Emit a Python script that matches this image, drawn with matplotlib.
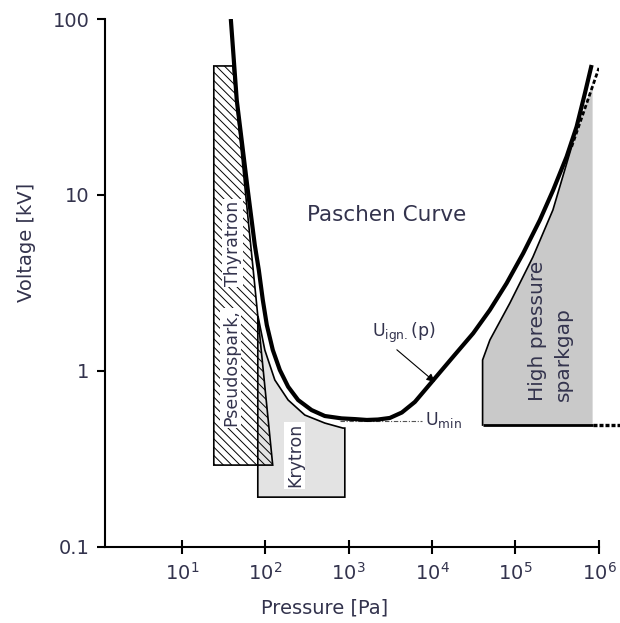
import matplotlib
matplotlib.use("Agg")
import matplotlib.pyplot as plt
import numpy as np
from matplotlib.patches import Polygon

# Paschen curve U_ign(p): pressure [Pa], voltage [kV]
curve_p = [38.7, 45.6, 61.8, 75.0, 83.8, 93.6, 104.5, 123.3, 149.7, 188.3,
           248, 359, 518, 822, 1187, 1652, 2239, 3118, 4344, 6220, 10510,
           17910, 31100, 49320, 78220, 123700, 196100, 283100, 410000,
           540200, 679400, 817400]
curve_v = [100, 34.6, 10.68, 5.20, 3.75, 2.53, 1.826, 1.316, 1.013, 0.814,
           0.684, 0.600, 0.555, 0.538, 0.533, 0.527, 0.530, 0.541, 0.581,
           0.667, 0.895, 1.206, 1.638, 2.222, 3.150, 4.665, 7.21, 10.68,
           16.51, 24.44, 37.83, 54.78]

# Pseudospark / Thyratron region (hatched)
thyr_p = [24.2, 40.9, 123, 24.2]
thyr_v = [54.1, 54.1, 0.292, 0.292]

# Krytron region
kry_p = [81.5, 82.2, 98.9, 130.4, 188.3, 298.4, 518.3, 852, 900, 900, 81.5]
kry_v = [2.035, 2.035, 1.316, 0.889, 0.684, 0.562, 0.506, 0.474, 0.474,
         0.192, 0.192]

# High pressure sparkgap region
spark_edge_p = [40320, 40320, 49320, 85700, 161700, 280800, 470700]
spark_edge_v = [0.493, 1.155, 1.50, 2.434, 4.444, 8.22, 18.8]
spark_top_p = 840400
spark_top_v = 43.3
spark_bottom_v = 0.493
spark_dash_p = [470700, 1.0e6]
spark_dash_v = [18.8, 52.7]
spark_tail_p = [840400, 1.79e6]

umin_p = [784, 7550]
umin_v = 0.52

xtick_vals = [1e1, 1e2, 1e3, 1e4, 1e5, 1e6]
xtick_labels = [r'10$^{\mathregular{%d}}$' % i for i in range(1, 7)]
ytick_vals = [0.1, 1, 10, 100]
ytick_labels = ['0.1', '1', '10', '100']

txt = '#33334d'

fig = plt.figure(figsize=(6.2, 6.23), dpi=100)
ax = fig.add_axes([0.169, 0.122, 0.797, 0.8475])
ax.set_xscale('log')
ax.set_yscale('log')
ax.set_xlim(10 ** 0.077, 1e6)
ax.set_ylim(0.1, 100)

# krytron (light grey, outlined)
kry = Polygon(np.column_stack([kry_p, kry_v]), closed=True,
              facecolor='#e3e3e3', edgecolor='black', lw=1.2, zorder=2)
ax.add_patch(kry)

# pseudospark / thyratron (hatched, no fill)
plt.rcParams['hatch.linewidth'] = 0.7
plt.rcParams['hatch.color'] = '#444444'
thyr = Polygon(np.column_stack([thyr_p, thyr_v]), closed=True,
               facecolor='none', edgecolor='black', lw=1.2,
               hatch='\\' * 4, zorder=3)
ax.add_patch(thyr)

# high pressure sparkgap
sp_p = spark_edge_p + [spark_top_p, spark_top_p]
sp_v = spark_edge_v + [spark_top_v, spark_bottom_v]
spark = Polygon(np.column_stack([sp_p, sp_v]), closed=True,
                facecolor='#c9c9c9', edgecolor='none', zorder=2)
ax.add_patch(spark)
ax.plot(spark_edge_p, spark_edge_v, color='black', lw=1.2, zorder=3)
ax.plot([spark_edge_p[0], spark_top_p], [spark_bottom_v] * 2,
        color='black', lw=2.0, zorder=3, solid_capstyle='butt')
ax.plot(spark_dash_p, spark_dash_v, color='black', lw=2.0,
        ls=(0, (1.5, 0.9)), zorder=4)
ax.plot(spark_tail_p, [spark_bottom_v] * 2, color='black', lw=2.4,
        ls=(0, (1.2, 0.6)), zorder=4, clip_on=False)

# Paschen curve
ax.plot(curve_p, curve_v, color='black', lw=3.0, zorder=5,
        solid_capstyle='butt', solid_joinstyle='round')

# U_min marker line
ax.plot(umin_p, [umin_v] * 2, color='#555555', lw=0.8,
        ls=(0, (4, 1.5, 1, 1.5)), zorder=4)

# labels
ax.text(2870, 7.7, 'Paschen Curve', fontsize=15.5, color=txt,
        ha='center', va='center')
box = dict(facecolor='white', edgecolor='none', pad=1.0)
ax.text(40.9, 5.34, 'Thyratron', fontsize=12.5, color=txt, rotation=90,
        ha='center', va='center', bbox=box, zorder=6)
ax.text(38.7, 1.04, 'Pseudospark,', fontsize=12.5, color=txt, rotation=90,
        ha='center', va='center', bbox=box, zorder=6)
ax.text(226, 0.333, 'Krytron', fontsize=12.5, color=txt, rotation=90,
        ha='center', va='center', bbox=box, zorder=6)
ax.text(265000, 0.675, 'High pressure\nsparkgap', fontsize=14.5, color=txt,
        rotation=90, ha='center', va='bottom', multialignment='left',
        linespacing=1.45, zorder=6)
ax.text(1897, 1.64, r'U$_{\mathregular{ign.}}$(p)', fontsize=12.5, color=txt,
        ha='left', va='center', zorder=6)
ax.annotate('', xy=(10800, 0.866), xytext=(3784, 1.32),
            arrowprops=dict(arrowstyle='-|>', lw=0.8, color='black',
                            mutation_scale=12, shrinkA=0, shrinkB=0),
            zorder=6)
ax.text(8200, 0.527, r'U$_{\mathregular{min}}$', fontsize=12.5, color=txt,
        ha='left', va='center', zorder=6)

# axes styling
for side in ['top', 'right']:
    ax.spines[side].set_visible(False)
for side in ['left', 'bottom']:
    ax.spines[side].set_linewidth(1.5)
ax.xaxis.set_major_locator(matplotlib.ticker.FixedLocator(xtick_vals))
ax.xaxis.set_major_formatter(matplotlib.ticker.FixedFormatter(xtick_labels))
ax.yaxis.set_major_locator(matplotlib.ticker.FixedLocator(ytick_vals))
ax.yaxis.set_major_formatter(matplotlib.ticker.FixedFormatter(ytick_labels))
ax.xaxis.set_minor_locator(matplotlib.ticker.NullLocator())
ax.yaxis.set_minor_locator(matplotlib.ticker.NullLocator())
ax.tick_params(axis='x', direction='inout', length=10, width=1.5,
               labelsize=14, labelcolor=txt, pad=6)
ax.tick_params(axis='y', direction='out', length=6, width=1.5,
               labelsize=14, labelcolor=txt, pad=5)

ax.set_xlabel('Pressure [Pa]', fontsize=14, color=txt)
ax.xaxis.set_label_coords(0.445, -0.097)
ax.set_ylabel('Voltage [kV]', fontsize=14, color=txt)
ax.yaxis.set_label_coords(-0.14, 0.576)

fig.savefig('out.png', dpi=100)
